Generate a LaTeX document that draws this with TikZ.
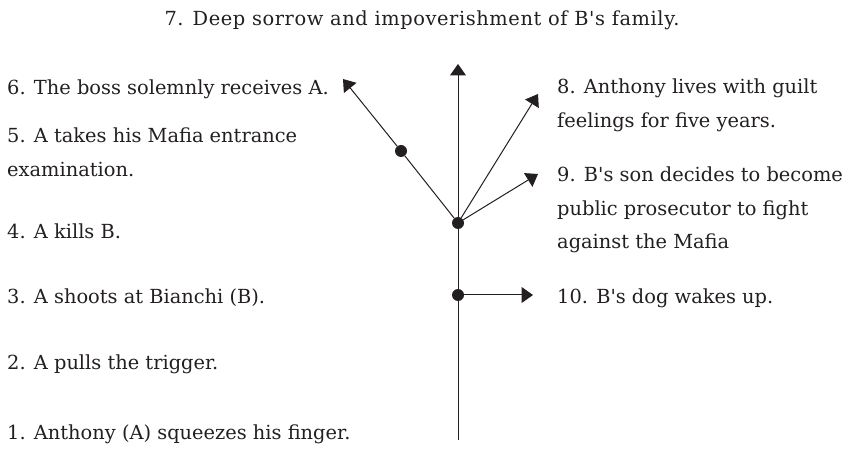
\documentclass[tikz,border=0pt]{standalone}
\usepackage{fontspec}
\setmainfont{DejaVu Serif}[Ligatures=TeXOff]
\usetikzlibrary{arrows.meta}
\definecolor{ink}{HTML}{231F20}
\tikzset{
  txt/.style={inner sep=0pt, text=ink, font=\fontsize{19.4}{33.5}\selectfont, align=left},
  dotnode/.style={circle, fill=ink, draw=none, minimum size=12pt, inner sep=0pt},
  branch/.style={draw=ink, line width=1pt},
  arr/.style={branch, -{Triangle[length=11.5pt,width=16pt]}},
}
\begin{document}
\begin{tikzpicture}[x=1pt,y=-1pt]
\path[use as bounding box] (0,0) rectangle (844,465);
% texts
\node[txt, anchor=base, font=\fontsize{19.4}{33.5}\selectfont\addfontfeature{LetterSpace=3}] (t7) at (422,26) {7. Deep sorrow and impoverishment of B's family.};
\node[txt, anchor=base west] (t6) at (7,95) {6. The boss solemnly receives A.};
\node[txt, anchor=north west] (t5) at (7,128) {5. A takes his Mafia entrance\\examination.};
\node[txt, anchor=base west] (t4) at (7,239) {4. A kills B.};
\node[txt, anchor=base west] (t3) at (7,304) {3. A shoots at Bianchi (B).};
\node[txt, anchor=base west] (t2) at (7,369) {2. A pulls the trigger.};
\node[txt, anchor=base west] (t1) at (7,439) {1. Anthony (A) squeezes his finger.};
\node[txt, anchor=north west] (t8) at (557,79) {8. Anthony lives with guilt\\feelings for five years.};
\node[txt, anchor=north west] (t9) at (557,167) {9. B's son decides to become\\public prosecutor to fight\\against the Mafia};
\node[txt, anchor=base west] (t10) at (557,304) {10. B's dog wakes up.};
% graph
\coordinate (bot) at (458,440);
\coordinate (tipUp) at (458,64);
\coordinate (tipUL) at (343,79);
\coordinate (tipUR) at (538,94);
\coordinate (tipR) at (538,174);
\coordinate (tipH) at (533,295);
\node[dotnode] (d1) at (458,295) {};
\node[dotnode] (d2) at (458,223) {};
\node[dotnode] (d3) at (401,151) {};
\draw[branch] (bot) -- (d1);
\draw[branch] (d1) -- (d2);
\draw[arr] (d2) -- (tipUp);
\draw[branch] (d2) -- (d3);
\draw[arr] (d3) -- (tipUL);
\draw[arr] (d2) -- (tipUR);
\draw[arr] (d2) -- (tipR);
\draw[arr] (d1) -- (tipH);
\end{tikzpicture}
\end{document}
